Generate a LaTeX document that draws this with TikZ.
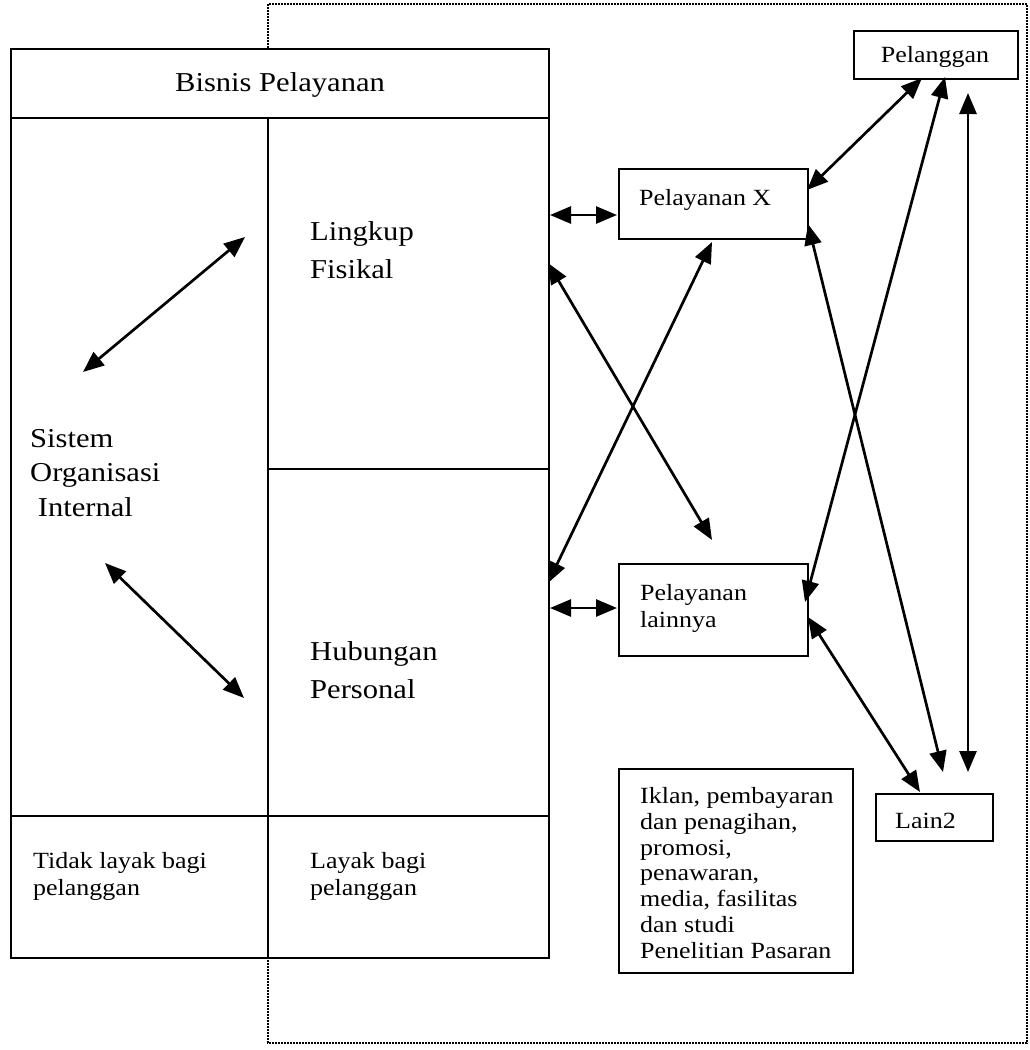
\documentclass[tikz,border=0pt]{standalone}
\usepackage{fontspec}
\setmainfont{Liberation Serif}[FakeStretch=1.12]
\usetikzlibrary{arrows.meta}
\begin{document}
\begin{tikzpicture}[x=1pt,y=-1pt,
  frame/.style={line width=2.3pt},
  box/.style={draw, line width=2.3pt, inner sep=0pt, anchor=north west},
  dots/.style={line width=1.6pt, dash pattern=on 1.6pt off 1.4pt},
  dbl/.style={line width=2.7pt, {Triangle[length=21pt,width=17pt]}-{Triangle[length=21pt,width=17pt]}},
  big/.style={inner sep=0pt, font=\fontsize{27.3}{38}\selectfont, align=left},
  small/.style={inner sep=0pt, font=\fontsize{23.2}{27}\selectfont, align=left}]
\useasboundingbox (0,0) rectangle (1029,1050);

% outer dotted frame
\coordinate (d1) at (268,48);
\coordinate (d2) at (268,4);
\coordinate (d3) at (1027,4);
\coordinate (d4) at (1027,1043);
\coordinate (d5) at (268,1043);
\coordinate (d6) at (268,957);
\draw[dots] (d1) -- (d2) -- (d3) -- (d4) -- (d5) -- (d6);

% service business table
\node[box, minimum width=538pt, minimum height=909pt] (bisnis) at (10,48) {};
\coordinate (hl) at (10,118);
\coordinate (hr) at (548,118);
\coordinate (vt) at (268,118);
\coordinate (vb) at (268,957);
\coordinate (ml) at (268,469);
\coordinate (mr) at (548,469);
\coordinate (bl) at (10,816);
\coordinate (br) at (548,816);
\draw[frame] (hl) -- (hr);
\draw[frame] (vt) -- (vb);
\draw[frame] (ml) -- (mr);
\draw[frame] (bl) -- (br);

% multi-line labels are anchored at the baseline of their last line
\node[big, anchor=base] (tbisnis) at (280,91) {Bisnis Pelayanan};
\node[big, anchor=base west] (tling) at (310,278) {Lingkup\\Fisikal};
\node[big, anchor=base west, font=\fontsize{27.3}{34.5}\selectfont] (tsis) at (30,516) {Sistem\\Organisasi\\\ Internal};
\node[big, anchor=base west] (thub) at (310,698) {Hubungan\\Personal};
\node[small, anchor=base west] (ttidak) at (33,895) {Tidak layak bagi\\pelanggan};
\node[small, anchor=base west] (tlayak) at (310,895) {Layak bagi\\pelanggan};

% right-hand boxes
\node[box, minimum width=164pt, minimum height=48pt] (pel) at (853,30) {};
\node[small, anchor=base] (tpel) at (935,62) {Pelanggan};
\node[box, minimum width=189pt, minimum height=70pt] (px) at (618,168) {};
\node[small, anchor=base west] (tpx) at (639,205) {Pelayanan X};
\node[box, minimum width=189pt, minimum height=92pt] (pl) at (618,563) {};
\node[small, anchor=base west] (tpl) at (640,627) {Pelayanan\\lainnya};
\node[box, minimum width=117pt, minimum height=47pt] (lain) at (875,793) {};
\node[small, anchor=base west] (tlain) at (895,828) {Lain2};
\node[box, minimum width=234pt, minimum height=204pt] (iklan) at (618,768) {};
\node[small, anchor=base west, font=\fontsize{23.2}{25.7}\selectfont] (tiklan) at (640,958)
  {Iklan, pembayaran\\dan penagihan,\\promosi,\\penawaran,\\media, fasilitas\\dan studi\\Penelitian Pasaran};

% arrow end points
\coordinate (a1s) at (245,237);  \coordinate (a1e) at (83,372);
\coordinate (a2s) at (105,563);  \coordinate (a2e) at (244,698);
\coordinate (a3s) at (550,215);  \coordinate (a3e) at (617,215);
\coordinate (a4s) at (550,608);  \coordinate (a4e) at (617,608);
\coordinate (a5s) at (548,263);  \coordinate (a5e) at (712,540);
\coordinate (a6s) at (548,583);  \coordinate (a6e) at (712,242);
\coordinate (a7s) at (922,78);   \coordinate (a7e) at (807,190);
\coordinate (a8s) at (945,77);   \coordinate (a8e) at (805,602);
\coordinate (a9s) at (808,224);  \coordinate (a9e) at (943,772);
\coordinate (a10s) at (968,93);  \coordinate (a10e) at (968,772);
\coordinate (a11s) at (808,617); \coordinate (a11e) at (920,792);

\draw[dbl] (a1s) -- (a1e);
\draw[dbl] (a2s) -- (a2e);
\draw[dbl] (a3s) -- (a3e);
\draw[dbl] (a4s) -- (a4e);
\draw[dbl] (a5s) -- (a5e);
\draw[dbl] (a6s) -- (a6e);
\draw[dbl] (a7s) -- (a7e);
\draw[dbl] (a8s) -- (a8e);
\draw[dbl] (a9s) -- (a9e);
\draw[dbl] (a10s) -- (a10e);
\draw[dbl] (a11s) -- (a11e);
\end{tikzpicture}
\end{document}
